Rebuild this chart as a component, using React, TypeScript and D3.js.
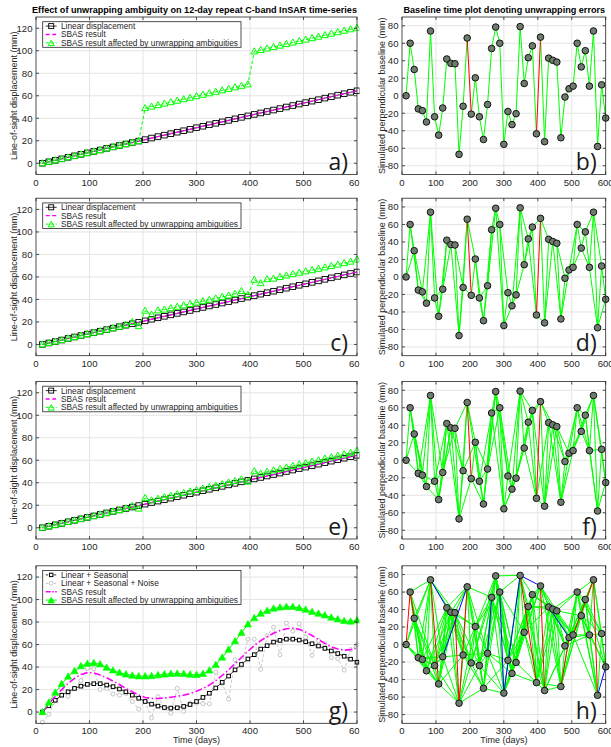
import { useEffect, useRef } from "react"
import * as d3 from "d3"

// acquisition days (12-day repeat)
const days = [12, 24, 36, 48, 60, 72, 84, 96, 108, 120, 132, 144, 156, 168, 180, 192, 204, 216, 228, 240, 252, 264, 276, 288, 300, 312, 324, 336, 348, 360, 372, 384, 396, 408, 420, 432, 444, 456, 468, 480, 492, 504, 516, 528, 540, 552, 564, 576, 588, 600]

// perpendicular baseline of each acquisition
const baseline = [0, 60, 30, -15, -17, -30, 74, -24, -45, -14, 42, 37, 36.5, -67, -12, 66, -21, 20.5, -24, -50, -10, 54, 78.5, 60, -55.5, -18, -33, -20.5, 79, 14, 43.5, 57, -43.5, 67, -52.5, 43, 40.5, 38.5, -48, -1.5, 8, 11, 60, 33, 51.5, 11, 74, -58, 12.5, -25.5]

// linear displacement (also the SBAS result in a, c, e)
const linearDisp = [0, 1.3, 2.6, 3.9, 5.3, 6.6, 7.9, 9.2, 10.5, 11.8, 13.2, 14.5, 15.8, 17.1, 18.4, 19.7, 21.0, 22.4, 23.7, 25.0, 26.3, 27.6, 28.9, 30.2, 31.6, 32.9, 34.2, 35.5, 36.8, 38.1, 39.5, 40.8, 42.1, 43.4, 44.7, 46.0, 47.3, 48.6, 50.0, 51.3, 52.6, 53.9, 55.2, 56.5, 57.9, 59.2, 60.5, 61.8, 63.1, 64.4]
const sbasLinear = linearDisp

// SBAS affected by unwrapping ambiguities
const wrappedA = [0, 1.3, 2.6, 3.9, 5.3, 6.6, 7.9, 9.2, 10.5, 11.8, 13.2, 14.5, 15.8, 17.1, 18.4, 19.7, 49.0, 50.4, 51.7, 53.0, 54.3, 55.6, 56.9, 58.2, 59.6, 60.9, 62.2, 63.5, 64.8, 66.1, 67.5, 68.8, 70.1, 99.4, 100.7, 102.0, 103.3, 104.6, 106.0, 107.3, 108.6, 109.9, 111.2, 112.5, 113.9, 115.2, 116.5, 117.8, 119.1, 120.4]
const wrappedC = [0, 1.3, 2.6, 3.9, 5.3, 6.6, 7.9, 9.2, 10.5, 11.8, 13.2, 14.5, 15.8, 17.5, 20, 16.3, 30, 26.5, 30.3, 31, 32.3, 33.5, 34.8, 36, 37.2, 38.5, 39.7, 41, 42.3, 43.5, 45, 47.5, 44, 57.5, 54.5, 58, 58.5, 60, 61.3, 62.5, 63.8, 65, 66, 67.2, 68.5, 69.8, 71, 72.3, 73.6, 75.5]
const wrappedE = [0, 1.3, 2.6, 3.9, 5.3, 6.6, 7.9, 9.2, 10.5, 11.8, 13.2, 14.5, 15.8, 17.3, 19.5, 17, 26.5, 24.3, 25.8, 27.2, 28.5, 29.8, 31, 32.3, 33.6, 34.9, 36.2, 37.5, 38.8, 40.2, 41.5, 43, 41, 50.3, 48.2, 49.8, 51, 52.3, 53.6, 55, 56.3, 57.5, 58.8, 60, 61.5, 62.7, 64, 65.3, 66.6, 68.5]

// panel g series
const seasonal = [0, 5.6, 10.5, 15, 18, 21, 23, 24.6, 25.2, 25.2, 24, 22.6, 20.5, 18, 15, 12.3, 9.4, 7, 5.3, 4, 3.5, 3.8, 5, 6.7, 9.4, 13, 16.7, 21.4, 26.4, 32, 37.5, 42.3, 47.2, 51, 56, 59, 62.2, 63.7, 64.8, 64.8, 64, 62.5, 60.7, 58.7, 56.6, 54.3, 52, 49.6, 47, 44.3]
const seasonalNoise = [-9, -2, 10, 21, 14, 21, 28, 39, 38.5, 20, 21, 16, 15, 16.7, 9.4, 2.6, 9.4, -5.3, 13.8, 3.5, -1, 21, 0.6, 7.9, 7.9, 7.5, 7.3, 35.5, 25.5, 11.4, 46.6, 40.8, 64.8, 64.8, 38, 68, 75.4, 51, 79, 72, 78.6, 66.6, 50.5, 63.7, 60.7, 48.4, 47.5, 37.3, 55.5, 60]
const sbasSeasonal = [0, 7, 14, 20, 25.5, 30, 33.3, 35, 34.8, 33, 30.5, 27.5, 24.5, 21, 18, 15.2, 13, 12, 12, 12.5, 13.2, 14, 15, 16.5, 18.5, 21, 24, 28, 32.5, 37.5, 43, 48.5, 54, 59, 63.5, 67, 70, 72.5, 74, 74.5, 73.5, 71, 68, 64.5, 61, 58, 56, 55, 55.5, 57]
const wrappedG = [0, 8.5, 17.3, 25, 31.5, 36.5, 40.8, 43, 43.5, 42.5, 39.5, 37, 35, 33.5, 32.5, 31.8, 31.8, 32, 32.8, 33.5, 34, 34.2, 34, 33.3, 33, 34, 37, 42, 48.5, 55.5, 63, 70.5, 78, 83.5, 87.5, 90, 92, 93, 93.5, 93.5, 92.5, 91, 89, 87.5, 86, 84, 82.5, 81, 80.5, 81.5]

// interferogram network: max temporal lag (in acquisitions) for b, d, f, h
const networkLags = [1, 2, 3, 6]
const errorEdges = [[15, 16], [32, 33]]
const redEdgesH = [[0, 1], [1, 2], [6, 8], [12, 13], [13, 15], [28, 32], [33, 34], [38, 40], [41, 46], [46, 47]]
const blueEdgesH = [[6, 10], [9, 15], [20, 21], [23, 24], [24, 28], [28, 33], [35, 40], [47, 49]]

const xTicks = [0, 100, 200, 300, 400, 500, 600]
const dispTicks = [0, 20, 40, 60, 80, 100, 120]
const baseTicks = [-80, -60, -40, -20, 0, 20, 40, 60, 80]
const leftLetters = ["a)", "c)", "e)", "g)"]
const rightLetters = ["b)", "d)", "f)", "h)"]

const FONT = "'Liberation Sans', Arial, sans-serif"
const AX = "#262626"
const GREEN = "#00ff00"

const App = () => {
  const svgRef = useRef<SVGSVGElement>(null)

  useEffect(() => {
    const svg = d3.select(svgRef.current)
    svg.selectAll("*").remove()
    svg.append("rect").attr("width", 611).attr("height", 747).attr("fill", "#fff")

    const leftRange: [number, number] = [36, 357]
    const rightRange: [number, number] = [402, 605.7]
    const rowBottoms = [174.5, 355.7, 539, 723.3]
    const plotH = 157.5

    const tri = (cx: number, cy: number, s: number) =>
      `M${cx},${cy - s}L${cx + s * 0.95},${cy + s * 0.7}L${cx - s * 0.95},${cy + s * 0.7}Z`

    // grid lines
    const grid = (g: any, x: any, y: any, yTicks: number[]) => {
      const [x0, x1] = x.range()
      const [yb, yt] = y.range()
      g.append("g").selectAll("line").data(xTicks.slice(1, -1)).join("line")
        .attr("x1", (d: number) => x(d)).attr("x2", (d: number) => x(d))
        .attr("y1", yt).attr("y2", yb)
        .attr("stroke", "#e4e4e4").attr("stroke-width", 1)
      g.append("g").selectAll("line").data(yTicks).join("line")
        .attr("x1", x0).attr("x2", x1)
        .attr("y1", (d: number) => y(d)).attr("y2", (d: number) => y(d))
        .attr("stroke", "#e4e4e4").attr("stroke-width", 1)
    }

    // box, ticks and labels
    const box = (g: any, x: any, y: any, yTicks: number[], yLabel: string, yLabelX: number, last: boolean) => {
      const [x0, x1] = x.range()
      const [yb, yt] = y.range()
      g.append("rect").attr("x", x0).attr("y", yt).attr("width", x1 - x0).attr("height", yb - yt)
        .attr("fill", "none").attr("stroke", AX).attr("stroke-width", 0.8)
      const tk = g.append("g").attr("stroke", AX).attr("stroke-width", 0.8)
      xTicks.forEach((t) => {
        tk.append("line").attr("x1", x(t)).attr("x2", x(t)).attr("y1", yb).attr("y2", yb - 3)
        tk.append("line").attr("x1", x(t)).attr("x2", x(t)).attr("y1", yt).attr("y2", yt + 3)
      })
      yTicks.forEach((t) => {
        tk.append("line").attr("x1", x0).attr("x2", x0 + 3).attr("y1", y(t)).attr("y2", y(t))
        tk.append("line").attr("x1", x1).attr("x2", x1 - 3).attr("y1", y(t)).attr("y2", y(t))
      })
      g.append("g").attr("font-family", FONT).attr("font-size", 9.6).attr("fill", AX)
        .attr("text-anchor", "middle")
        .selectAll("text").data(xTicks).join("text")
        .attr("x", (d: number) => x(d)).attr("y", yb + 11).text((d: number) => d)
      g.append("g").attr("font-family", FONT).attr("font-size", 9.6).attr("fill", AX)
        .attr("text-anchor", "end")
        .selectAll("text").data(yTicks).join("text")
        .attr("x", x0 - 3.5).attr("y", (d: number) => y(d)).attr("dy", "0.35em").text((d: number) => d)
      g.append("text").attr("font-family", FONT).attr("font-size", 9).attr("fill", AX)
        .attr("text-anchor", "middle")
        .attr("transform", `translate(${yLabelX},${(yb + yt) / 2}) rotate(-90)`)
        .text(yLabel)
      if (last) {
        g.append("text").attr("font-family", FONT).attr("font-size", 9).attr("fill", AX)
          .attr("text-anchor", "middle").attr("x", (x0 + x1) / 2).attr("y", yb + 19.5)
          .text("Time (days)")
      }
    }

    const letter = (g: any, x: any, y: any, txt: string) => {
      g.append("text").attr("font-family", "'Open Sans', sans-serif").attr("font-size", 23)
        .attr("fill", "#1a1a1a").attr("text-anchor", "end")
        .attr("x", x.range()[1] - 9).attr("y", y.range()[0] - 4.5).text(txt)
    }

    // ----- left column -----
    const wrappedSeries = [wrappedA, wrappedC, wrappedE]
    rowBottoms.forEach((yb, r) => {
      const g = svg.append("g")
      const x = d3.scaleLinear().domain([0, 600]).range(leftRange)
      const y = d3.scaleLinear().domain([-10, 130]).range([yb, yb - plotH])
      grid(g, x, y, dispTicks)
      const line = (vals: number[]) => d3.line<number>().x((_, i) => x(days[i])).y((v) => y(v))(vals)

      if (r < 3) {
        g.append("path").attr("d", line(linearDisp)).attr("fill", "none").attr("stroke", "#000").attr("stroke-width", 0.8)
        g.append("g").selectAll("rect").data(linearDisp).join("rect")
          .attr("x", (_: number, i: number) => x(days[i]) - 2.8).attr("y", (v: number) => y(v) - 2.8)
          .attr("width", 5.6).attr("height", 5.6)
          .attr("fill", "none").attr("stroke", "#000").attr("stroke-width", 0.9)
        g.append("path").attr("d", line(sbasLinear)).attr("fill", "none").attr("stroke", "#ff00ff")
          .attr("stroke-width", 1.3).attr("stroke-dasharray", "4,2.5")
        const w = wrappedSeries[r]
        g.append("path").attr("d", line(w)).attr("fill", "none").attr("stroke", GREEN)
          .attr("stroke-width", 1).attr("stroke-dasharray", "3.5,2")
        g.append("g").selectAll("path").data(w).join("path")
          .attr("d", (v: number, i: number) => tri(x(days[i]), y(v), 3.6))
          .attr("fill", "none").attr("stroke", GREEN).attr("stroke-width", 1)
      } else {
        g.append("path").attr("d", line(seasonalNoise)).attr("fill", "none").attr("stroke", "#c4c4c4")
          .attr("stroke-width", 0.9).attr("stroke-dasharray", "3,2")
        g.append("g").selectAll("circle").data(seasonalNoise).join("circle")
          .attr("cx", (_: number, i: number) => x(days[i])).attr("cy", (v: number) => y(v)).attr("r", 2)
          .attr("fill", "#fff").attr("stroke", "#bdbdbd").attr("stroke-width", 0.9)
        g.append("path").attr("d", line(seasonal)).attr("fill", "none").attr("stroke", "#000").attr("stroke-width", 0.8)
        g.append("g").selectAll("rect").data(seasonal).join("rect")
          .attr("x", (_: number, i: number) => x(days[i]) - 1.8).attr("y", (v: number) => y(v) - 1.8)
          .attr("width", 3.6).attr("height", 3.6)
          .attr("fill", "#fff").attr("stroke", "#000").attr("stroke-width", 1)
        g.append("path").attr("d", line(sbasSeasonal)).attr("fill", "none").attr("stroke", "#ff00ff")
          .attr("stroke-width", 1.6).attr("stroke-dasharray", "7,2.5,1.5,2.5")
        g.append("path").attr("d", line(wrappedG)).attr("fill", "none").attr("stroke", GREEN).attr("stroke-width", 1)
        g.append("g").selectAll("path").data(wrappedG).join("path")
          .attr("d", (v: number, i: number) => tri(x(days[i]), y(v), 3.8))
          .attr("fill", GREEN).attr("stroke", GREEN).attr("stroke-width", 0.6)
      }

      box(g, x, y, dispTicks, "Line-of-sight displacement (mm)", 16.7, r === 3)
      letter(g, x, y, leftLetters[r])

      // legend
      const lx = 42.7, lw = 198.3, step = 8.4
      const ly = y.range()[1] + 4.7
      const labels = r < 3
        ? ["Linear displacement", "SBAS result", "SBAS result affected by unwrapping ambiguities"]
        : ["Linear + Seasonal", "Linear + Seasonal + Noise", "SBAS result", "SBAS result affected by unwrapping ambiguities"]
      const lg = g.append("g")
      lg.append("rect").attr("x", lx).attr("y", ly).attr("width", lw).attr("height", labels.length * step + 0.4)
        .attr("fill", "#fff").attr("stroke", AX).attr("stroke-width", 0.8)
      labels.forEach((lab, k) => {
        const cy = ly + 4.4 + k * step
        const sx0 = lx + 3, sx1 = lx + 14, cx = (sx0 + sx1) / 2
        const seg = lg.append("line").attr("x1", sx0).attr("x2", sx1).attr("y1", cy).attr("y2", cy).attr("fill", "none")
        if (r < 3) {
          if (k === 0) {
            seg.attr("stroke", "#000").attr("stroke-width", 0.8)
            lg.append("rect").attr("x", cx - 2.5).attr("y", cy - 2.5).attr("width", 5).attr("height", 5)
              .attr("fill", "none").attr("stroke", "#000").attr("stroke-width", 0.9)
          } else if (k === 1) {
            seg.attr("stroke", "#ff00ff").attr("stroke-width", 1.3).attr("stroke-dasharray", "4,2.5")
          } else {
            seg.attr("stroke", GREEN).attr("stroke-width", 1).attr("stroke-dasharray", "3,2")
            lg.append("path").attr("d", tri(cx, cy + 0.5, 3.2)).attr("fill", "none").attr("stroke", GREEN)
          }
        } else {
          if (k === 0) {
            seg.attr("stroke", "#000").attr("stroke-width", 0.8).attr("stroke-dasharray", "2.5,1.5")
            lg.append("rect").attr("x", cx - 1.7).attr("y", cy - 1.7).attr("width", 3.4).attr("height", 3.4)
              .attr("fill", "#fff").attr("stroke", "#000").attr("stroke-width", 1)
          } else if (k === 1) {
            seg.attr("stroke", "#c4c4c4").attr("stroke-width", 0.9).attr("stroke-dasharray", "2.5,1.5")
            lg.append("circle").attr("cx", cx).attr("cy", cy).attr("r", 1.9)
              .attr("fill", "#fff").attr("stroke", "#bdbdbd").attr("stroke-width", 0.9)
          } else if (k === 2) {
            seg.attr("stroke", "#ff00ff").attr("stroke-width", 1.6).attr("stroke-dasharray", "5,1.5,1.5,1.5")
          } else {
            seg.attr("stroke", GREEN).attr("stroke-width", 1)
            lg.append("path").attr("d", tri(cx, cy + 0.5, 3.5)).attr("fill", GREEN).attr("stroke", GREEN).attr("stroke-width", 0.5)
          }
        }
        lg.append("text").attr("font-family", FONT).attr("font-size", 8.3).attr("fill", AX)
          .attr("x", lx + 18.3).attr("y", cy).attr("dy", "0.35em").text(lab)
      })
    })

    // ----- right column -----
    svg.append("rect").attr("x", 359.5).attr("y", 0).attr("width", 252).attr("height", 747).attr("fill", "#fff")
    rowBottoms.forEach((yb, r) => {
      const g = svg.append("g")
      const x = d3.scaleLinear().domain([0, 600]).range(rightRange)
      const y = d3.scaleLinear().domain([-90, 90]).range([yb, yb - plotH])
      grid(g, x, y, baseTicks)

      const lag = networkLags[r]
      const green: number[][] = []
      days.forEach((_, i) => {
        for (let k = 1; k <= lag; k++) if (i + k < days.length) green.push([i, i + k])
      })
      const red = r < 3 ? errorEdges : redEdgesH
      const blue = r < 3 ? [] : blueEdgesH
      const key = (e: number[]) => `${e[0]}-${e[1]}`
      const colored = new Set([...red, ...blue].map(key))
      const drawEdges = (edges: number[][], color: string) =>
        g.append("g").selectAll("line").data(edges).join("line")
          .attr("x1", (e: number[]) => x(days[e[0]])).attr("y1", (e: number[]) => y(baseline[e[0]]))
          .attr("x2", (e: number[]) => x(days[e[1]])).attr("y2", (e: number[]) => y(baseline[e[1]]))
          .attr("stroke", color).attr("stroke-width", 1)
      drawEdges(green.filter((e) => !colored.has(key(e))), GREEN)
      drawEdges(red, "#ff0000")
      drawEdges(blue, "#0000ff")
      g.append("g").selectAll("circle").data(baseline).join("circle")
        .attr("cx", (_: number, i: number) => x(days[i])).attr("cy", (v: number) => y(v)).attr("r", 3.3)
        .attr("fill", "#6e7c6e").attr("stroke", "#111").attr("stroke-width", 1)

      box(g, x, y, baseTicks, "Simulated perpendicular baseline (mm)", 384.5, r === 3)
      letter(g, x, y, rightLetters[r])
    })

    // titles
    svg.append("text").attr("font-family", FONT).attr("font-size", 9.1).attr("font-weight", "bold")
      .attr("text-anchor", "middle").attr("x", 194.5).attr("y", 12.5).attr("fill", "#000")
      .text("Effect of unwrapping ambiguity on 12-day repeat C-band InSAR time-series")
    svg.append("text").attr("font-family", FONT).attr("font-size", 9.1).attr("font-weight", "bold")
      .attr("text-anchor", "middle").attr("x", 504.3).attr("y", 12.5).attr("fill", "#000")
      .text("Baseline time plot denoting unwrapping errors")
  }, [])

  return <svg ref={svgRef} width={611} height={747} style={{ position: "absolute", left: 0, top: 0 }} />
}

export default App
